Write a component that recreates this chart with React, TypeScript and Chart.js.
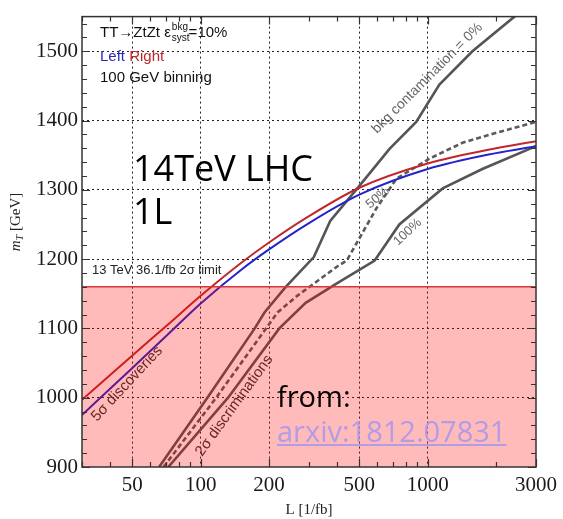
import React, { useEffect, useRef } from 'react';
import { Chart, registerables } from 'chart.js';

Chart.register(...registerables);

// ---- axes ----
const lumiMin = 30;
const lumiMax = 3000;
const massMin = 900;
const massMax = 1550;
const lumiTickLabels = [50, 100, 200, 500, 1000, 3000];
const lumiMinorTicks = [30, 40, 60, 70, 80, 90, 300, 400, 600, 700, 800, 900, 2000];
const massTickLabels = [900, 1000, 1100, 1200, 1300, 1400, 1500];
const massMinorStep = 20;

// ---- 5 sigma discoveries ----
const discLumi = [30, 50, 72, 100, 150, 200, 300, 500, 1000, 2000, 3000];
const discRight = [997, 1061, 1106, 1147, 1194, 1224, 1262, 1303, 1338, 1360, 1370];
const discLeft = [975, 1043, 1092, 1136, 1184, 1214, 1252, 1293, 1330, 1353, 1363];

// ---- 13 TeV 36.1/fb 2 sigma limit ----
const limitLumi = [30, 3000];
const limitMass = 1160;

// ---- 2 sigma discriminations ----
const bkg0Lumi = [65.6, 107, 173, 191, 237, 315, 372, 495, 679, 890, 1126, 1574, 2432];
const bkg0Mass = [900, 1000, 1100, 1123, 1160, 1203, 1255, 1304, 1359, 1398, 1452, 1500, 1551];
const bkg50Lumi = [68.6, 117, 194, 218, 266, 398, 440, 596, 728, 1018, 1424, 1990, 3000];
const bkg50Mass = [900, 1000, 1100, 1123, 1147, 1189, 1198, 1274, 1316, 1345, 1368, 1382, 1398];
const bkg100Lumi = [72, 132, 222, 290, 398, 584, 750, 1164, 1741, 3000];
const bkg100Mass = [900, 1000, 1100, 1137, 1165, 1198, 1250, 1302, 1330, 1363];

const pts = (xs: number[], ys: number[]) => xs.map((x, i) => ({ x, y: ys[i] }));

const SANS = '"Liberation Sans", Arial, sans-serif';
const SERIF = '"Liberation Serif", "Times New Roman", serif';
const OPEN = '"Open Sans", "Noto Sans", sans-serif';

function rotText(ctx: CanvasRenderingContext2D, text: string, x: number, y: number, deg: number, font: string, color: string) {
  ctx.save();
  ctx.translate(x, y);
  ctx.rotate((deg * Math.PI) / 180);
  ctx.font = font;
  ctx.fillStyle = color;
  ctx.textAlign = 'left';
  ctx.textBaseline = 'alphabetic';
  ctx.fillText(text, 0, 0);
  ctx.restore();
}

const decorPlugin = {
  id: 'decor',
  beforeDatasetsDraw(chart: any) {
    const ctx: CanvasRenderingContext2D = chart.ctx;
    // labels lying under the shaded region
    rotText(ctx, '5\u03c3 discoveries', 97, 422, -47, `15px ${SANS}`, '#333');
    rotText(ctx, '2\u03c3 discriminations', 202, 457, -54, `15px ${SANS}`, '#333');
    rotText(ctx, 'bkg contamination = 0%', 377, 134, -45, `14px ${SANS}`, '#666');
    rotText(ctx, '50%', 370, 209, -40, `13px ${SANS}`, '#666');
    rotText(ctx, '100%', 398, 246, -43, `13px ${SANS}`, '#666');
    ctx.save();
    ctx.font = `13px ${SANS}`;
    ctx.fillStyle = '#222';
    ctx.fillText('13 TeV 36.1/fb 2\u03c3 limit', 92, 274);
    ctx.restore();
  },
  afterDatasetsDraw(chart: any) {
    const ctx: CanvasRenderingContext2D = chart.ctx;
    const { left, right, top, bottom } = chart.chartArea;
    const xs = chart.scales.x;
    const ys = chart.scales.y;
    ctx.save();
    // frame
    ctx.strokeStyle = '#333';
    ctx.lineWidth = 1.5;
    ctx.strokeRect(left, top, right - left, bottom - top);
    // ticks
    ctx.lineWidth = 1.2;
    const xTick = (v: number, len: number) => {
      const p = Math.round(xs.getPixelForValue(v)) + 0.5;
      ctx.beginPath();
      ctx.moveTo(p, bottom); ctx.lineTo(p, bottom - len);
      ctx.moveTo(p, top); ctx.lineTo(p, top + len);
      ctx.stroke();
    };
    lumiTickLabels.forEach((v) => xTick(v, 8));
    lumiMinorTicks.forEach((v) => xTick(v, 5));
    for (let m = massMin; m <= massMax; m += massMinorStep) {
      const len = m % 100 === 0 ? 8 : 5;
      const p = Math.round(ys.getPixelForValue(m)) + 0.5;
      ctx.beginPath();
      ctx.moveTo(left, p); ctx.lineTo(left + len, p);
      ctx.moveTo(right, p); ctx.lineTo(right - len, p);
      ctx.stroke();
    }
    // legend text
    ctx.textAlign = 'left';
    ctx.textBaseline = 'alphabetic';
    ctx.fillStyle = '#111';
    ctx.font = `15px ${SANS}`;
    const t1 = 'TT\u2192ZtZt \u03b5';
    ctx.fillText(t1, 100, 37);
    const x = 100 + ctx.measureText(t1).width + 1;
    ctx.font = `10px ${SANS}`;
    ctx.fillText('bkg', x, 30);
    ctx.fillText('syst', x, 41);
    const w = Math.max(ctx.measureText('bkg').width, ctx.measureText('syst').width);
    ctx.font = `15px ${SANS}`;
    ctx.fillText('=10%', x + w - 1, 37);
    ctx.fillStyle = '#2a2ab8';
    ctx.fillText('Left', 100, 61);
    const lw = ctx.measureText('Left ').width;
    ctx.fillStyle = '#c0282d';
    ctx.fillText('Right', 100 + lw, 61);
    ctx.fillStyle = '#111';
    ctx.fillText('100 GeV binning', 100, 82);
    // big annotation
    ctx.fillStyle = '#000';
    ctx.font = `36px ${OPEN}`;
    ctx.fillText('14TeV LHC', 133, 181);
    ctx.fillText('1L', 133, 224);
    ctx.font = `29px ${OPEN}`;
    ctx.fillText('from:', 277, 407);
    ctx.fillStyle = '#b39be6';
    ctx.fillText('arxiv:1812.07831', 277, 442);
    const aw = ctx.measureText('arxiv:1812.07831').width;
    ctx.fillRect(277, 444, aw, 2);
    // axis titles
    ctx.fillStyle = '#222';
    ctx.font = `15px ${SERIF}`;
    ctx.textAlign = 'center';
    ctx.fillText('L [1/fb]', (left + right) / 2, 514);
    ctx.translate(20, 222);
    ctx.rotate(-Math.PI / 2);
    ctx.textAlign = 'left';
    ctx.font = `italic 15px ${SERIF}`;
    const mW = ctx.measureText('m').width;
    ctx.font = `italic 10px ${SERIF}`;
    const tW = ctx.measureText('T').width;
    ctx.font = `15px ${SERIF}`;
    const gW = ctx.measureText(' [GeV]').width;
    const total = mW + tW + gW;
    let cx = -total / 2;
    ctx.font = `italic 15px ${SERIF}`;
    ctx.fillText('m', cx, 0);
    cx += mW;
    ctx.font = `italic 10px ${SERIF}`;
    ctx.fillText('T', cx, 3);
    cx += tW;
    ctx.font = `15px ${SERIF}`;
    ctx.fillText(' [GeV]', cx, 0);
    ctx.restore();
  },
};

export default function App() {
  const ref = useRef<HTMLCanvasElement | null>(null);
  useEffect(() => {
    document.body.style.margin = '0';
    const canvas = ref.current!;
    const chart = new Chart(canvas, {
      type: 'line',
      data: {
        datasets: [
          {
            label: 'limit',
            data: limitLumi.map((x) => ({ x, y: limitMass })),
            borderColor: '#d8373a',
            borderWidth: 1.5,
            backgroundColor: 'rgba(255,0,0,0.27)',
            fill: 'start',
            pointRadius: 0,
          },
          {
            label: 'Right',
            data: pts(discLumi, discRight),
            borderColor: '#c0282d',
            borderWidth: 2,
            cubicInterpolationMode: 'monotone',
            pointRadius: 0,
          },
          {
            label: 'Left',
            data: pts(discLumi, discLeft),
            borderColor: '#2424c8',
            borderWidth: 2,
            cubicInterpolationMode: 'monotone',
            pointRadius: 0,
          },
          {
            label: '0%',
            data: pts(bkg0Lumi, bkg0Mass),
            borderColor: '#555',
            borderWidth: 2.6,
            tension: 0,
            pointRadius: 0,
          },
          {
            label: '50%',
            data: pts(bkg50Lumi, bkg50Mass),
            borderColor: '#5a5a5a',
            borderWidth: 2.6,
            borderDash: [5, 3],
            tension: 0,
            pointRadius: 0,
          },
          {
            label: '100%',
            data: pts(bkg100Lumi, bkg100Mass),
            borderColor: '#555',
            borderWidth: 2.6,
            tension: 0,
            pointRadius: 0,
          },
        ],
      },
      options: {
        animation: false,
        responsive: true,
        maintainAspectRatio: false,
        layout: { padding: { top: 8, right: 22, left: 0, bottom: 0 } },
        plugins: { legend: { display: false }, tooltip: { enabled: false } },
        scales: {
          x: {
            type: 'logarithmic',
            min: lumiMin,
            max: lumiMax,
            afterBuildTicks: (s: any) => {
              s.ticks = lumiTickLabels.map((v) => ({ value: v }));
            },
            afterFit: (s: any) => {
              s.height = 52;
            },
            ticks: {
              autoSkip: false,
              maxRotation: 0,
              padding: 6,
              color: '#1a1a1a',
              font: { family: SERIF, size: 21 },
              callback: (v: any) => String(v),
            },
            grid: {
              drawTicks: false,
              lineWidth: 1,
              color: (c: any) => (c.tick && c.tick.value < 3000 ? '#222' : 'rgba(0,0,0,0)'),
            },
            border: { display: false, dash: [2, 3] },
          },
          y: {
            type: 'linear',
            min: massMin,
            max: massMax,
            afterBuildTicks: (s: any) => {
              s.ticks = massTickLabels.map((v) => ({ value: v }));
            },
            afterFit: (s: any) => {
              s.width = 82;
            },
            ticks: {
              autoSkip: false,
              padding: 4,
              color: '#1a1a1a',
              font: { family: SERIF, size: 21 },
              callback: (v: any) => String(v),
            },
            grid: {
              drawTicks: false,
              lineWidth: 1,
              color: (c: any) => (c.tick && c.tick.value > massMin ? '#222' : 'rgba(0,0,0,0)'),
            },
            border: { display: false, dash: [2, 3] },
          },
        },
      },
      plugins: [decorPlugin],
    } as any);
    return () => chart.destroy();
  }, []);
  return (
    <div style={{ position: 'absolute', left: 0, top: 0, width: 563, height: 519 }}>
      <canvas ref={ref} />
    </div>
  );
}
